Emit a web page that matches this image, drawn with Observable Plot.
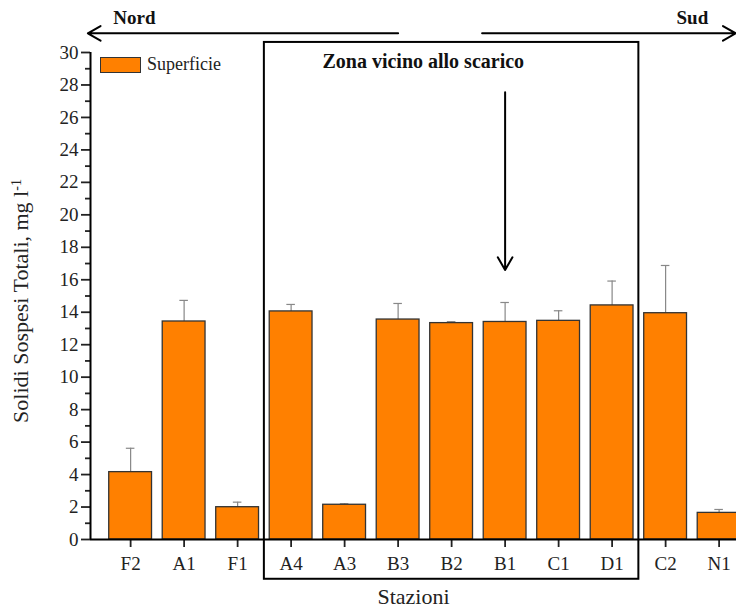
<!DOCTYPE html>
<html><head><meta charset="utf-8">
<script src="https://cdn.jsdelivr.net/npm/d3@7"></script>
<script src="https://cdn.jsdelivr.net/npm/@observablehq/plot@0.6"></script>
<style>
body{margin:0;background:#fff;}
#wrap{position:relative;width:736px;height:612px;overflow:hidden;}
#legend{position:absolute;left:100px;top:54px;display:flex;align-items:center;font:18px "Liberation Serif",serif;color:#222;}
#legend .sw{display:inline-block;width:39px;height:14px;background:#FF8000;border:1px solid #333;margin-right:6px;}
</style></head><body>
<div id="wrap"><div id="legend"><span class="sw"></span>Superficie</div></div>
<script>
// Data
const stations = ["F2","A1","F1","A4","A3","B3","B2","B1","C1","D1","C2","N1"];
const values   = [4.15,13.43,1.99,14.05,2.14,13.55,13.33,13.40,13.47,14.42,13.94,1.64];
const errors   = [1.47,1.30,0.31,0.43,0.06,0.99,0.09,1.20,0.62,1.50,2.94,0.21];
const yTicks   = [0,2,4,6,8,10,12,14,16,18,20,22,24,26,28,30];
const yMinor   = [1,3,5,7,9,11,13,15,17,19,21,23,25,27,29];
const seriesName = "Superficie";
const xLabel = "Stazioni";
const yLabel = "Solidi Sospesi Totali, mg l";
const yLabelSup = "-1";

// Annotation data (in data space: x = station index, y = value units)
const xDomain = [-0.75, 11.325];
const zoneBox = [{x1: 2.5, x2: 9.5, y1: -2.45, y2: 30.62}];
const zoneText = [{x: 5.47, y: 29.45, t: "Zona vicino allo scarico"}];
const dirArrows = [{x1: 5.0, x2: -0.8, y: 31.18}, {x1: 6.57, x2: 11.31, y: 31.18}];
const dirText = [{x: 0.07, y: 32.15, t: "Nord"}, {x: 10.5, y: 32.15, t: "Sud"}];
const dischargeArrow = [{x: 7, y1: 27.55, y2: 16.6}];

const rows = stations.map((s, i) => ({i, s, v: values[i], e: errors[i]}));
const serif = "'Liberation Serif', 'Times New Roman', serif";

const chart = Plot.plot({
  width: 736, height: 612,
  marginLeft: 90, marginRight: 0, marginTop: 52, marginBottom: 73,
  style: {fontFamily: serif, fontSize: "19px", color: "#222", background: "white"},
  x: {type: "linear", domain: xDomain},
  y: {domain: [0, 30]},
  marks: [
    Plot.ruleX(rows, {x: "i", y1: "v", y2: d => d.v + d.e, stroke: "#888", strokeWidth: 1.2}),
    Plot.ruleY(rows, {y: d => d.v + d.e, x1: d => d.i - 0.08, x2: d => d.i + 0.08, stroke: "#888", strokeWidth: 1.2}),
    Plot.rectY(rows, {x1: d => d.i - 0.4, x2: d => d.i + 0.4, y: "v", fill: "#FF8000", stroke: "#333", strokeWidth: 1.3}),
    Plot.axisY({ticks: yTicks, tickSize: 9, tickPadding: 3, label: null, strokeWidth: 1.8, fontSize: 19}),
    Plot.axisY({ticks: yMinor, tickSize: 5, tickFormat: () => "", label: null, strokeWidth: 1.8}),
    Plot.axisX({ticks: d3.range(stations.length), tickFormat: i => stations[i], tickSize: 8, tickPadding: 9, label: null, strokeWidth: 1.8, fontSize: 19}),
    Plot.ruleY([0], {strokeWidth: 2, stroke: "black"}),
    Plot.ruleX([xDomain[0]], {strokeWidth: 2, stroke: "black"}),
    Plot.rect(zoneBox, {x1: "x1", x2: "x2", y1: "y1", y2: "y2", fill: "none", stroke: "black", strokeWidth: 2}),
    Plot.text(zoneText, {x: "x", y: "y", text: "t", fontWeight: "bold", fontSize: 20, fill: "#111"}),
    Plot.arrow(dirArrows, {x1: "x1", x2: "x2", y1: "y", y2: "y", stroke: "black", strokeWidth: 2, headLength: 11}),
    Plot.text(dirText, {x: "x", y: "y", text: "t", fontWeight: "bold", fontSize: 19, fill: "#111"}),
    Plot.arrow(dischargeArrow, {x: "x", y1: "y1", y2: "y2", stroke: "black", strokeWidth: 2, headLength: 11}),
    Plot.text([xLabel], {text: d => d, frameAnchor: "bottom", dy: 64, fontSize: 22, fill: "#222"}),
    Plot.text([yLabel], {text: d => d, frameAnchor: "left", textAnchor: "middle", dx: -70, dy: 5, rotate: -90, fontSize: 22, fill: "#222"})
  ]
});
document.getElementById("wrap").prepend(chart);

// superscript on y label
d3.select(chart).selectAll("text").filter(function() { return this.textContent === yLabel; })
  .each(function() {
    const t = d3.select(this);
    t.append("tspan").attr("dy", "-0.5em").attr("font-size", 14).text(yLabelSup);
  });
</script>
</body></html>
